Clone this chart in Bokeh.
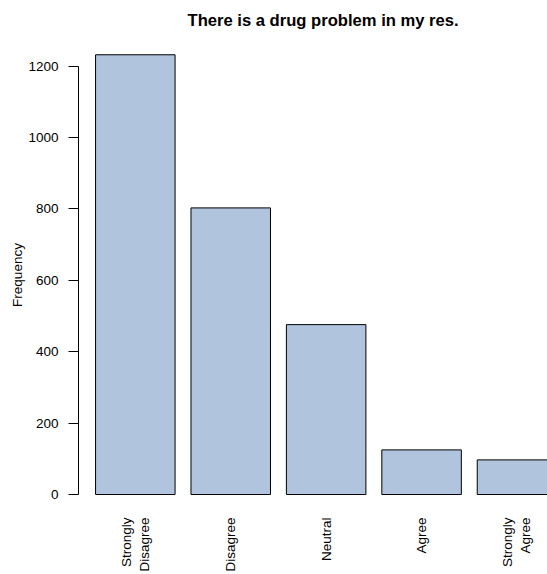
from math import pi
from bokeh.plotting import figure
from bokeh.models import FixedTicker, Range1d
from bokeh.embed import file_html
from bokeh.resources import INLINE

# ---- data ----
categories = ["Strongly\nDisagree", "Disagree", "Neutral", "Agree", "Strongly\nAgree"]
counts = [1232, 803, 476, 125, 97]
y_ticks = [0, 200, 400, 600, 800, 1000, 1200]
title_text = "There is a drug problem in my res."
y_label = "Frequency"

positions = list(range(1, len(categories) + 1))
FONT = "Liberation Sans"

p = figure(width=547, height=574, output_backend="svg", toolbar_location=None,
           x_range=Range1d(0.4046, 5.3197), y_range=Range1d(-50.4, 1280.4),
           min_border_left=78, min_border_right=0, min_border_top=37,
           min_border_bottom=62)

p.vbar(x=positions, top=counts, bottom=0, width=1 / 1.2,
       fill_color="#B0C4DE", line_color="black", line_width=1)

p.title.text = title_text
p.title.align = "left"
p.title.offset = 109
p.title.standoff = 16
p.title.text_font = FONT
p.title.text_font_size = "16.6px"
p.title.text_font_style = "bold"
p.title.text_color = "black"

p.outline_line_color = None
p.xgrid.visible = False
p.ygrid.visible = False

xa = p.xaxis[0]
xa.ticker = FixedTicker(ticks=positions)
xa.major_label_overrides = {pos: cat for pos, cat in zip(positions, categories)}
xa.major_label_orientation = pi / 2
xa.axis_line_color = None
xa.major_tick_line_color = None
xa.minor_tick_line_color = None
xa.major_tick_out = 0
xa.major_tick_in = 0
xa.minor_tick_out = 0
xa.major_label_standoff = 5
xa.major_label_text_font = FONT
xa.major_label_text_font_size = "13.5px"
xa.major_label_text_color = "black"

ya = p.yaxis[0]
ya.ticker = FixedTicker(ticks=y_ticks)
ya.bounds = (0, 1200)
ya.major_tick_out = 10
ya.major_tick_in = 0
ya.minor_tick_line_color = None
ya.axis_line_color = "black"
ya.major_tick_line_color = "black"
ya.major_label_standoff = 10
ya.major_label_text_font = FONT
ya.major_label_text_font_size = "13.5px"
ya.major_label_text_color = "black"
ya.axis_label = y_label
ya.axis_label_text_font = FONT
ya.axis_label_text_font_size = "13.5px"
ya.axis_label_text_font_style = "normal"
ya.axis_label_text_color = "black"
ya.axis_label_standoff = 0

open("out.html", "w").write(file_html(p, INLINE))
